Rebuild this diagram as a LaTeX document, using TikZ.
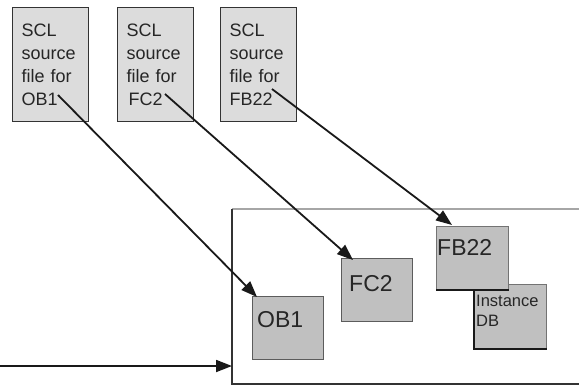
\documentclass[tikz,border=0pt]{standalone}
\usepackage{fontspec}
\setmainfont{Liberation Sans}
\usetikzlibrary{arrows.meta}
\definecolor{srcfill}{HTML}{DCDCDC}
\definecolor{blkfill}{HTML}{C0C0C0}
\definecolor{edge}{HTML}{333333}
\tikzset{
  src/.style={draw=edge, line width=1.4pt, fill=srcfill, anchor=north west,
    align=left, inner xsep=9pt, text width=58pt, minimum height=114pt,
    font=\fontsize{18}{23}\selectfont, text=black!85},
  blk/.style={draw=edge!80, line width=1.1pt, fill=blkfill, anchor=north west,
    minimum width=71pt, minimum height=63pt, inner sep=0pt},
  blklabel/.style={anchor=base west, inner sep=0pt, font=\fontsize{23}{23}\selectfont, text=black!85},
  conn/.style={line width=1.8pt, draw=black!90, -{Triangle[length=16pt,width=12pt]}},
}
\begin{document}
\begin{tikzpicture}[x=1pt,y=-1pt]
\useasboundingbox (0,0) rectangle (579,386);
% source files
\node[src] (s1) at (12,7) {SCL\\source\\file for\\OB1};
\node[src] (s2) at (117,7) {SCL\\source\\file for\\\hspace*{2pt}FC2};
\node[src] (s3) at (220,7) {SCL\\source\\file for\\FB22};
% container
\coordinate (ctl) at (232,209);
\coordinate (ctr) at (579,209);
\coordinate (cbl) at (232,384);
\coordinate (cbr) at (579,384);
\draw[line width=1.8pt, draw=black!35] (ctl) -- (ctr);
\draw[line width=1.5pt, draw=edge] (ctl) -- (cbl) -- (cbr);
% blocks
\node[blk] (ob1) at (252,296) {};
\node[blklabel] (ob1t) at (257,327) {OB1};
\node[blk] (fc2) at (341,258) {};
\node[blklabel] (fc2t) at (349,291) {FC2};
\node[blk, draw=black!55, minimum width=72pt, minimum height=64pt] (idb) at (474,284) {};
\draw[line width=2.2pt, draw=black!90] (idb.north west) -- (idb.south west) -- (idb.south east);
\node[blk, draw=black!55, minimum width=72pt] (fb22) at (436,226) {};
\draw[line width=2.4pt, draw=black!90] (fb22.south west) -- (fb22.south east);
\node[blklabel] (fb22t) at (437,255) {FB22};
\node[anchor=north west, inner sep=0pt, align=left, font=\fontsize{16.5}{20}\selectfont, text=black!85] (idbt) at (476,294.5) {Instance\\DB};
% connectors
\coordinate (a1) at (58,95);
\coordinate (a2) at (165,94);
\coordinate (a3) at (272,89);
\coordinate (a4) at (0,366);
\draw[conn] (a1) -- ([xshift=5pt,yshift=-1pt]ob1.north west);
\draw[conn] (a2) -- ([xshift=12pt,yshift=-2pt]fc2.north west);
\draw[conn] (a3) -- ([xshift=16pt,yshift=1pt]fb22.north west);
\draw[conn] (a4) -- (a4 -| ctl);
\end{tikzpicture}
\end{document}
